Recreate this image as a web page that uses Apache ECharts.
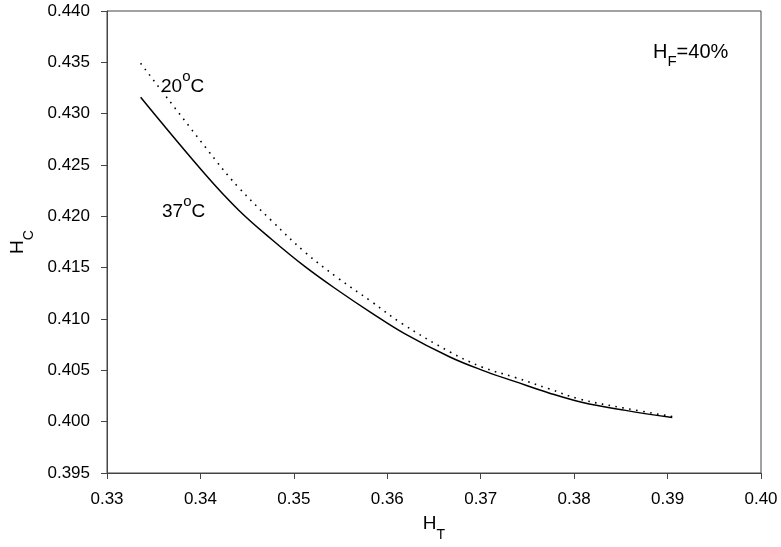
<!DOCTYPE html>
<html>
<head>
<meta charset="utf-8">
<script src="https://cdn.jsdelivr.net/npm/echarts@6/dist/echarts.min.js"></script>
<style>
html,body{margin:0;padding:0;background:#fff;}
#chart{width:781px;height:547px;}
</style>
</head>
<body>
<div id="chart"></div>
<script>
// H_T values and H_C values for 37 °C (solid)
var ht37 = [0.3336, 0.3406, 0.3441, 0.3477, 0.3512, 0.3547, 0.3583, 0.3618, 0.3667, 0.3702, 0.3737, 0.3773, 0.3808, 0.3855, 0.3905];
var hc37 = [0.4316, 0.4240, 0.4206, 0.4177, 0.4151, 0.4128, 0.4106, 0.4086, 0.4063, 0.4050, 0.4039, 0.4028, 0.4019, 0.4011, 0.4004];
// H_T values and H_C values for 20 °C (dotted)
var ht20 = [0.3336, 0.3416, 0.3441, 0.3477, 0.3512, 0.3547, 0.3583, 0.3615, 0.3667, 0.3702, 0.3737, 0.3773, 0.3806, 0.3855, 0.3905];
var hc20 = [0.4349, 0.4255, 0.4228, 0.4195, 0.4165, 0.4140, 0.4117, 0.4096, 0.4068, 0.4053, 0.4043, 0.4032, 0.4022, 0.4013, 0.4005];

var xTicks = {min: 0.33, max: 0.40, step: 0.01};
var yTicks = {min: 0.395, max: 0.440, step: 0.005};

function pairs(xs, ys) { return xs.map(function (x, i) { return [x, ys[i]]; }); }

var FONT = '"Liberation Sans", Arial, Helvetica, sans-serif';
var chart = echarts.init(document.getElementById('chart'), null, {renderer: 'canvas'});

function tok(size, padTop) {
  return {fontFamily: FONT, fontSize: size, lineHeight: 30, verticalAlign: 'top',
    padding: [padTop, 0, 0, 0], fontWeight: 'normal', color: '#000'};
}
var subRich = {m: tok(19, 0), s: tok(14, 14)};
var supRich = {m: tok(19, 8), o: tok(15, 0)};

chart.setOption({
  animation: false,
  backgroundColor: '#fff',
  title: [
    {text: '{m|20}{o|o}{m|C}', left: 161, top: 69, padding: 0,
      textStyle: {fontWeight: 'normal', rich: supRich}},
    {text: '{m|37}{o|o}{m|C}', left: 162, top: 194, padding: 0,
      textStyle: {fontWeight: 'normal', rich: supRich}},
    {text: '{m|H}{s|F}{m|=40%}', left: 653, top: 42, padding: 0,
      textStyle: {fontWeight: 'normal', rich: {m: tok(20, 0), s: tok(15, 12)}}}
  ],
  grid: {left: 100, right: 20, top: 11, bottom: 74, show: true, borderColor: '#444', borderWidth: 1, backgroundColor: 'transparent'},
  xAxis: {
    type: 'value', min: xTicks.min, max: xTicks.max, interval: xTicks.step,
    name: '{m|H}{s|T}', nameLocation: 'middle', nameGap: 41,
    nameTextStyle: {rich: subRich},
    axisLine: {show: true, lineStyle: {color: '#444', width: 1}},
    axisTick: {show: true, inside: false, length: 6, lineStyle: {color: '#444'}},
    axisLabel: {margin: 18, color: '#000', fontSize: 17, fontFamily: FONT,
      formatter: function (v) { return v.toFixed(2); }},
    splitLine: {show: false}
  },
  yAxis: {
    type: 'value', min: yTicks.min, max: yTicks.max, interval: yTicks.step,
    name: '{m|H}{s|C}', nameLocation: 'middle', nameGap: 69, nameRotate: 90,
    nameTextStyle: {rich: subRich},
    axisLine: {show: true, lineStyle: {color: '#444', width: 1}},
    axisTick: {show: true, inside: false, length: 6, lineStyle: {color: '#444'}},
    axisLabel: {margin: 17, color: '#000', fontSize: 17, fontFamily: FONT,
      formatter: function (v) { return v.toFixed(3); }},
    splitLine: {show: false}
  },
  series: [
    {
      name: '20°C', type: 'line', data: pairs(ht20, hc20), smooth: 0.4,
      showSymbol: false, symbol: 'none',
      lineStyle: {color: '#000', width: 1.6, type: [1.6, 5.4], cap: 'butt'}
    },
    {
      name: '37°C', type: 'line', data: pairs(ht37, hc37), smooth: 0.4,
      showSymbol: false, symbol: 'none',
      lineStyle: {color: '#000', width: 1.5, type: 'solid'}
    }
  ]
});
</script>
</body>
</html>
